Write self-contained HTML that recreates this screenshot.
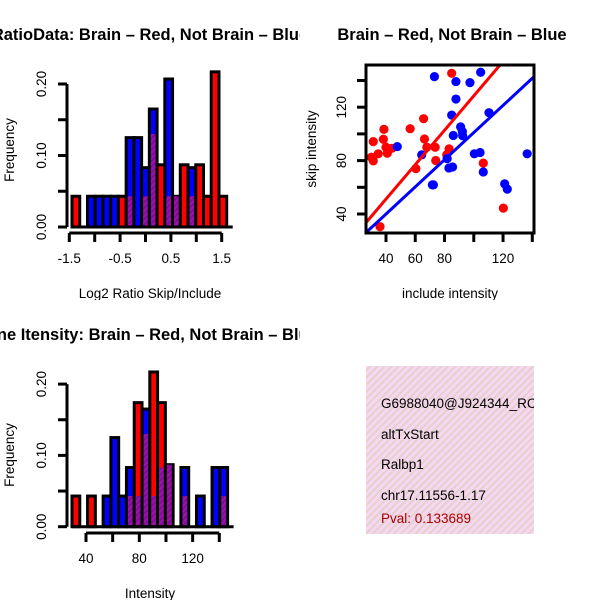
<!DOCTYPE html>
<html><head><meta charset="utf-8"><style>
html,body{margin:0;padding:0;background:#fff}
svg{display:block;font-family:"Liberation Sans",Arial,sans-serif}
</style></head><body>
<svg id="c" width="600" height="600" viewBox="0 0 600 600" xmlns="http://www.w3.org/2000/svg">
<defs>
<pattern id="purp" patternUnits="userSpaceOnUse" width="4" height="4" patternTransform="rotate(45)">
<rect width="4" height="4" fill="#a010b0"/><rect width="2" height="4" fill="#7a1090"/></pattern>
<pattern id="pink" patternUnits="userSpaceOnUse" width="5" height="5" patternTransform="rotate(45)">
<rect width="5" height="5" fill="#f8d6f2"/><rect width="2" height="5" fill="#e2d2cc"/></pattern>
<clipPath id="cl1"><rect x="0" y="0" width="300" height="300"/></clipPath>
<clipPath id="cl2"><rect x="300" y="0" width="300" height="300"/></clipPath>
<clipPath id="cl3"><rect x="0" y="300" width="300" height="300"/></clipPath>
<clipPath id="cbox"><rect x="366" y="366" width="168" height="168"/></clipPath>
<clipPath id="cplot"><rect x="366" y="65" width="168" height="168"/></clipPath>
</defs>
</svg>
<script>
// ---- data ----
const ratioRed  = [0.043,0,0,0,0,0,0.043,0.043,0,0.043,0.13,0.087,0.043,0.043,0.087,0.043,0.087,0.043,0.217,0.043];
const ratioBlue = [0,0,0.043,0.043,0.043,0.043,0,0.125,0.125,0.083,0.165,0,0.207,0.043,0,0.083,0,0,0,0];
const ratioTicks = [-1.5,-1,-0.5,0,0.5,1,1.5];
const ratioTickLabels = ["-1.5","","-0.5","","0.5","","1.5"];
const intRed  = [0.043,0,0.043,0,0,0,0,0.043,0.174,0.13,0.217,0.174,0.087,0,0.043,0,0,0,0,0.043];
const intBlue = [0,0,0,0,0.043,0.125,0.043,0.083,0.043,0.165,0.043,0.083,0.087,0,0.083,0,0.043,0,0.083,0.083];
const intTicks = [40,60,80,100,120,140];
const intTickLabels = ["40","","80","","120",""];
const freqTicks = [0,0.05,0.1,0.15,0.2];
const freqTickLabels = ["0.00","","0.10","","0.20"];
const redInc  = [35.9,31.3,30.0,31.3,34.7,38.6,38.2,40.0,40.9,43.9,56.5,60.4,65.7,66.3,67.9,73.6,74.0,81.5,83.1,84.9,106.5,120.2];
const redSkip = [30.5,94.2,82.5,79.8,85.1,103.4,96.0,90.0,85.5,89.2,103.9,74.0,111.4,96.2,90.0,90.0,80.1,84.4,88.8,145.4,78.1,44.4];
const blueInc  = [47.7,64.4,71.7,72.4,73.1,81.8,83.0,85.5,84.9,86.0,87.8,87.8,91.0,92.4,92.2,97.4,100.4,104.3,104.7,106.5,110.4,121.1,122.9,136.5];
const blueSkip = [90.5,84.3,61.8,61.8,142.9,81.5,74.5,75.2,114.1,98.8,139.2,126.1,105.3,98.6,101.7,138.4,85.1,86.1,146.2,71.5,115.9,62.6,58.6,85.1];
const redFit = [-0.4,1.289];
const blueFit = [-0.7,1.017];
const scXTicks = [40,60,80,100,120,140];
const scXTickLabels = ["40","60","80","","120",""];
const scYTicks = [40,60,80,100,120,140];
const scYTickLabels = ["40","","80","","120",""];

const FS=13.5, TFS=16.5;
const NS="http://www.w3.org/2000/svg";
const svg=document.getElementById('c');
function el(tag,attrs,parent,txt){const e=document.createElementNS(NS,tag);for(const k in attrs)e.setAttribute(k,attrs[k]);if(txt!==undefined)e.textContent=txt;(parent||svg).appendChild(e);return e;}
function grp(name,clip){const g=el('g',clip?{'clip-path':'url(#'+clip+')'}:{});


return g;}

function hist(g,red,blue,yScale,x0,x1,base){
  const n=red.length,w=(x1-x0)/n;
  for(let i=0;i<n;i++){
    const r=red[i],b=blue[i];if(r===0&&b===0)continue;
    const mx=Math.max(r,b),mn=Math.min(r,b);
    const x=x0+i*w;
    const bar=el('rect',{x:x,y:yScale(mx),width:w,height:base-yScale(mx),fill:r>=b?'#ff0000':'#0000ff',stroke:'#000','stroke-width':3},g);
    
    
    if(mn>0){const p=el('rect',{x:x+1.5,y:yScale(mn),width:w-3,height:base-yScale(mn)-1.5,fill:'url(#purp)'},g);
      
      }
  }
  el('line',{x1:x0,x2:x1+6,y1:base,y2:base,stroke:'#000','stroke-width':3},g);
}
function yAxis(g,ys,ticks,labels,x,lx){
  el('line',{x1:x,x2:x,y1:ys(ticks[0]),y2:ys(ticks[ticks.length-1]),stroke:'#000','stroke-width':3},g);
  ticks.forEach((t,i)=>{const y=ys(t);el('line',{x1:x-9,x2:x,y1:y,y2:y,stroke:'#000','stroke-width':3},g);
    if(labels[i])el('text',{x:lx,y:y,'font-size':FS,'text-anchor':'middle',transform:`rotate(-90 ${lx} ${y})`},g,labels[i]);});
}
function xAxis(g,xs,ticks,labels,y,ly){
  el('line',{x1:xs(ticks[0]),x2:xs(ticks[ticks.length-1]),y1:y,y2:y,stroke:'#000','stroke-width':3},g);
  ticks.forEach((t,i)=>{const x=xs(t);el('line',{x1:x,x2:x,y1:y,y2:y+9,stroke:'#000','stroke-width':3},g);
    if(labels[i])el('text',{x:x,y:ly,'font-size':FS,'text-anchor':'middle'},g,labels[i]);});
}

// Panel 1
{
 const g=grp('ratio-histogram-panel','cl1');
 const ys=v=>227-v*715; const xs=v=>69.3+(v+1.5)*50.8;
 el('text',{x:150,y:40,'font-size':TFS,'font-weight':'bold','text-anchor':'middle'},g,'RatioData: Brain – Red, Not Brain – Blue');
 hist(g,ratioRed,ratioBlue,ys,72,226.7,227);
 yAxis(g,ys,freqTicks,freqTickLabels,67,46);
 xAxis(g,xs,ratioTicks,ratioTickLabels,233,263);
 el('text',{x:150,y:298,'font-size':FS,'text-anchor':'middle'},g,'Log2 Ratio Skip/Include');
 el('text',{x:14,y:150,'font-size':FS,'text-anchor':'middle',transform:'rotate(-90 14 150)'},g,'Frequency');
}
// Panel 2 scatter
{
 const g=grp('scatter-panel','cl2');
 const xs=v=>386+(v-40)*1.463; const ys=v=>214-(v-40)*1.335;
 el('text',{x:452,y:40,'font-size':TFS,'font-weight':'bold','text-anchor':'middle'},g,'Brain – Red, Not Brain – Blue');
 const pg=el('g',{'clip-path':'url(#cplot)'},g);
 redInc.forEach((v,i)=>{const c=el('circle',{cx:xs(v),cy:ys(redSkip[i]),r:4.6,fill:'#ff0000'},pg);
   
   });
 blueInc.forEach((v,i)=>{const c=el('circle',{cx:xs(v),cy:ys(blueSkip[i]),r:4.6,fill:'#0000ff'},pg);
   
   });
 const lr=el('line',{x1:xs(20),y1:ys(redFit[0]+redFit[1]*20),x2:xs(150),y2:ys(redFit[0]+redFit[1]*150),stroke:'#ff0000','stroke-width':3},pg);
 
 
 const lb=el('line',{x1:xs(20),y1:ys(blueFit[0]+blueFit[1]*20),x2:xs(150),y2:ys(blueFit[0]+blueFit[1]*150),stroke:'#0000ff','stroke-width':3},pg);
 
 
 el('rect',{x:366,y:65,width:168,height:168,fill:'none',stroke:'#000','stroke-width':3},g);
 scYTicks.forEach((t,i)=>{const y=ys(t);if(y<65)return;el('line',{x1:357,x2:366,y1:y,y2:y,stroke:'#000','stroke-width':3},g);
   if(scYTickLabels[i])el('text',{x:346,y:y,'font-size':FS,'text-anchor':'middle',transform:`rotate(-90 346 ${y})`},g,scYTickLabels[i]);});
 scXTicks.forEach((t,i)=>{const x=xs(t);el('line',{x1:x,x2:x,y1:233,y2:242,stroke:'#000','stroke-width':3},g);
   if(scXTickLabels[i])el('text',{x:x,y:263,'font-size':FS,'text-anchor':'middle'},g,scXTickLabels[i]);});
 el('text',{x:450,y:298,'font-size':FS,'text-anchor':'middle'},g,'include intensity');
 el('text',{x:316,y:149,'font-size':FS,'text-anchor':'middle',transform:'rotate(-90 316 149)'},g,'skip intensity');
}
// Panel 3
{
 const g=grp('intensity-histogram-panel','cl3');
 const ys=v=>526.7-v*713; const xs=v=>86+(v-40)*1.333;
 el('text',{x:150,y:340,'font-size':TFS,'font-weight':'bold','text-anchor':'middle'},g,'Line Itensity: Brain – Red, Not Brain – Blue');
 hist(g,intRed,intBlue,ys,72,227.6,526.7);
 yAxis(g,ys,freqTicks,freqTickLabels,67,46);
 xAxis(g,xs,intTicks,intTickLabels,533,563);
 el('text',{x:150,y:598,'font-size':FS,'text-anchor':'middle'},g,'Intensity');
 el('text',{x:14,y:455,'font-size':FS,'text-anchor':'middle',transform:'rotate(-90 14 455)'},g,'Frequency');
}
// Panel 4 info box
{
 const g=grp('info-box','cbox');
 el('rect',{x:366,y:366,width:168,height:168,fill:'url(#pink)'},g);
 const lines=[['G6988040@J924344_RC',408,'#000','gene-id'],['altTxStart',439,'#000','event-type'],['Ralbp1',469,'#000','gene-name'],['chr17.11556-1.17',500,'#000','location'],['Pval: 0.133689',523,'#aa0000','p-value']];
 lines.forEach(l=>{const t=el('text',{x:381,y:l[1],'font-size':FS,fill:l[2]},g,l[0]);
   
   });
}
</script>
</body></html>
